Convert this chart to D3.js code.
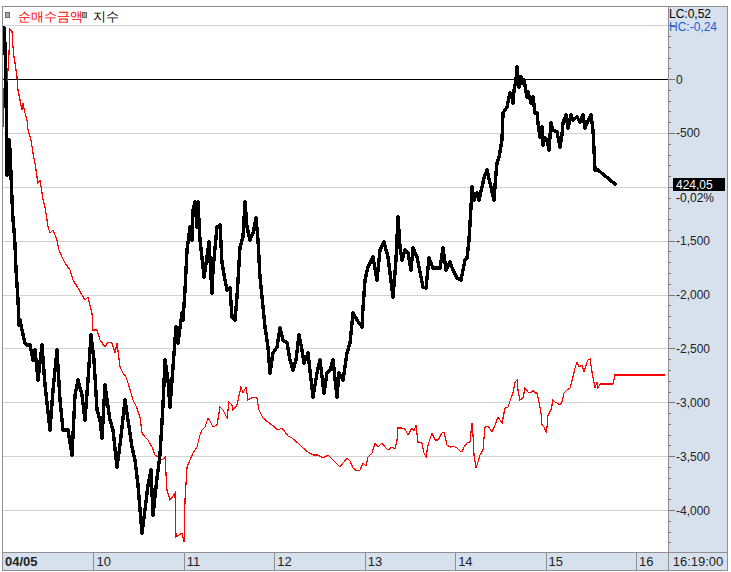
<!DOCTYPE html>
<html><head><meta charset="utf-8">
<script src="https://cdn.jsdelivr.net/npm/d3@7"></script>
<style>
body{margin:0;background:#fff}
svg{display:block}
text{font-family:"Liberation Sans",Arial,sans-serif}
</style>
</head><body>
<svg id="c" width="731" height="572"></svg>
<script>
// ---- data ----
const days = ["04/05","10","11","12","13","14","15","16"];
const yTickValues = [500,0,-500,-1000,-1500,-2000,-2500,-3000,-3500,-4000];
const yTickLabels = [0,-500,-1500,-2000,-2500,-3000,-3500,-4000];
const seriesNames = ["순매수금액","지수"];
const lastTime = "16:19:00";
const lcText = "LC:0,52", hcText = "HC:-0,24";
const lastIndex = "424,05", lastChange = "-0,02%";
// bar index (approx. 4‑minute bars, ~90 per session), net buying amount
const netBuy = [[0,-445],[1,-83],[3,-148],[5,84],[6,242],[7,465],[9,447],[10,298],[11,205],[12,150],[14,20],[15,-101],[17,-194],[19,-287],[20,-222],[22,-315],[24,-380],[25,-473],[28,-565],[30,-686],[32,-779],[34,-909],[35,-965],[37,-937],[39,-1057],[40,-1122],[42,-1187],[44,-1308],[45,-1373],[47,-1429],[50,-1401],[54,-1494],[56,-1587],[59,-1652],[62,-1707],[67,-1772],[70,-1865],[75,-1939],[79,-2004],[82,-2051],[85,-2023],[89,-2172],[90,-2329],[94,-2329],[97,-2422],[102,-2487],[105,-2441],[109,-2450],[112,-2543],[114,-2450],[117,-2673],[120,-2729],[123,-2766],[125,-2821],[128,-2914],[130,-2979],[134,-3054],[137,-3137],[139,-3286],[142,-3323],[145,-3351],[149,-3416],[152,-3490],[155,-3508],[159,-3536],[162,-3508],[164,-3815],[167,-3908],[172,-3843],[173,-4251],[179,-4214],[181,-4298],[182,-3908],[184,-3601],[187,-3536],[190,-3471],[194,-3416],[197,-3304],[199,-3258],[202,-3230],[205,-3146],[207,-3174],[210,-3230],[214,-3211],[217,-3044],[220,-3072],[224,-3146],[226,-2998],[229,-3026],[230,-3072],[234,-3026],[238,-2859],[240,-2914],[243,-2859],[245,-2979],[250,-2951],[254,-2961],[256,-3072],[260,-3146],[265,-3184],[269,-3211],[275,-3258],[279,-3239],[285,-3314],[289,-3332],[295,-3379],[300,-3425],[305,-3462],[310,-3490],[315,-3490],[320,-3518],[325,-3490],[330,-3536],[335,-3583],[337,-3601],[344,-3518],[347,-3546],[350,-3611],[354,-3638],[357,-3629],[360,-3564],[363,-3592],[365,-3508],[369,-3471],[372,-3378],[375,-3416],[379,-3378],[382,-3416],[385,-3443],[389,-3416],[392,-3434],[394,-3351],[395,-3239],[399,-3239],[402,-3249],[405,-3304],[409,-3239],[411,-3267],[413,-3211],[415,-3369],[419,-3378],[421,-3471],[423,-3508],[425,-3397],[429,-3286],[432,-3351],[435,-3351],[439,-3286],[441,-3276],[444,-3397],[447,-3416],[450,-3406],[454,-3425],[457,-3453],[459,-3462],[461,-3416],[464,-3378],[467,-3369],[469,-3193],[470,-3304],[471,-3490],[473,-3610],[475,-3555],[477,-3490],[480,-3443],[482,-3230],[485,-3221],[489,-3276],[492,-3211],[495,-3137],[499,-3193],[502,-3054],[505,-3044],[508,-2961],[510,-2914],[512,-2812],[514,-2794],[515,-2886],[517,-2979],[520,-2961],[522,-2868],[525,-2905],[528,-2914],[530,-2886],[532,-2914],[534,-2914],[536,-2998],[538,-3100],[539,-3211],[541,-3230],[543,-3276],[544,-3230],[545,-3119],[548,-3072],[550,-2979],[552,-2998],[554,-3007],[557,-3026],[559,-2998],[561,-2914],[564,-2886],[567,-2868],[570,-2766],[572,-2682],[574,-2626],[576,-2673],[579,-2654],[581,-2719],[584,-2626],[585,-2608],[587,-2599],[589,-2719],[591,-2812],[592,-2868],[594,-2812],[595,-2868],[597,-2831],[610,-2831],[612,-2747],[662,-2747]];
// index level
const indexLevel = [[1,431.85],[2,431.00],[3,428.75],[4,424.50],[5,425.25],[6,426.25],[7,425.75],[8,424.50],[9,423.25],[10,422.25],[11,421.75],[12,421.00],[13,419.75],[15,418.25],[16,417.00],[17,417.25],[19,416.75],[22,416.10],[24,416.00],[27,416.00],[30,415.25],[32,415.75],[35,414.25],[39,416.00],[42,414.00],[47,411.75],[50,413.75],[54,415.75],[57,413.25],[60,411.75],[65,411.75],[69,410.50],[72,413.50],[75,414.25],[79,413.50],[82,412.25],[85,414.25],[88,416.50],[91,415.25],[94,412.75],[97,412.25],[99,411.35],[102,414.00],[107,412.25],[110,411.75],[114,409.90],[117,411.00],[122,413.25],[125,412.25],[129,410.90],[132,410.25],[135,409.00],[139,406.60],[142,407.75],[145,409.00],[148,409.75],[150,407.50],[154,409.35],[157,410.50],[160,413.00],[162,415.25],[165,414.25],[167,412.90],[170,414.90],[173,416.90],[175,416.10],[179,417.60],[180,417.25],[182,418.75],[184,420.75],[187,421.90],[189,421.25],[190,422.75],[192,423.15],[194,421.90],[195,423.15],[197,421.25],[200,419.90],[201,419.40],[204,420.40],[206,421.15],[209,418.60],[210,419.75],[214,421.90],[217,422.00],[219,420.10],[222,419.25],[224,418.75],[227,418.85],[229,417.40],[232,417.25],[234,418.40],[237,420.90],[240,421.40],[242,423.15],[244,421.90],[247,421.25],[250,421.60],[253,422.35],[255,421.25],[257,419.40],[260,417.90],[262,416.90],[265,415.90],[267,414.60],[270,415.60],[274,415.90],[277,416.85],[280,416.25],[284,416.10],[287,415.25],[290,414.75],[293,415.25],[296,416.50],[299,415.75],[301,415.10],[305,415.60],[310,413.40],[314,414.60],[317,415.25],[321,413.60],[324,414.60],[327,414.75],[330,415.25],[334,413.40],[336,414.60],[340,414.25],[344,415.60],[347,416.10],[350,417.60],[354,417.25],[359,416.90],[360,417.85],[362,419.25],[365,419.90],[370,420.40],[374,419.25],[377,420.75],[381,421.15],[385,420.40],[390,418.40],[393,420.25],[395,422.40],[397,420.90],[399,420.25],[402,420.75],[405,420.60],[408,419.75],[410,420.85],[414,420.40],[417,419.65],[420,418.90],[423,418.85],[426,420.35],[430,419.85],[434,419.85],[437,419.85],[440,420.85],[443,419.75],[447,420.15],[450,419.75],[454,419.35],[458,419.25],[462,420.25],[464,420.35],[466,421.25],[468,422.90],[469,423.90],[471,423.25],[474,423.60],[476,423.25],[479,423.90],[481,424.35],[484,424.75],[487,424.10],[491,423.25],[493,424.60],[494,425.10],[496,425.40],[499,426.25],[500,427.60],[504,427.90],[507,428.60],[509,428.40],[510,428.10],[511,428.75],[513,429.25],[514,429.90],[516,428.90],[518,429.40],[519,429.10],[521,429.25],[524,428.40],[525,428.65],[528,428.10],[530,428.40],[532,427.60],[534,427.60],[535,427.10],[537,426.40],[539,426.90],[540,426.00],[542,426.35],[544,426.25],[546,425.75],[548,427.10],[550,426.75],[554,426.65],[557,425.90],[559,426.50],[560,427.10],[563,427.50],[565,426.85],[568,427.50],[570,427.25],[574,427.40],[577,427.15],[580,427.50],[582,426.85],[584,427.10],[588,427.50],[590,426.75],[592,424.75],[595,424.75],[612,424.05]];

// ---- layout ----
const W=731,H=572, L=3, R=668, T=6, B=552, BB=571, PR=728;
const barsPerDay = 90.43;
const svg = d3.select("#c");
const panel = "#d7e1ee", frame = "#8f8f8f";

const xDay = d3.scaleBand().domain(days).range([L, L + days.length*barsPerDay]).paddingInner(0).paddingOuter(0);
const xT = d3.scaleLinear().domain([0, days.length*barsPerDay]).range([L, L + days.length*barsPerDay]);
const yR = d3.scaleLinear().domain([0,-4000]).range([79.1, 510]);
const yI = d3.scaleLinear().domain([400,430]).range([665,65]);
const fmt = v => d3.format(",")(v).replace("\u2212","-");

svg.append("rect").attr("width",W).attr("height",H).attr("fill","#fff");
svg.append("defs").append("clipPath").attr("id","clip").append("rect")
  .attr("x",L).attr("y",T).attr("width",R-L).attr("height",B-T);

// grid
svg.append("g").selectAll("line").data(yTickValues).join("line")
  .attr("x1",L).attr("x2",R)
  .attr("y1",d=>Math.round(yR(d))+0.5).attr("y2",d=>Math.round(yR(d))+0.5)
  .attr("stroke",d=>d===0?"#000":"#d2d2d2").attr("stroke-width",1);

const g = svg.append("g").attr("clip-path","url(#clip)");
g.append("path").datum(netBuy)
  .attr("d", d3.line().x(d=>xT(d[0])).y(d=>yR(d[1])))
  .attr("fill","none").attr("stroke","#ff0000").attr("stroke-width",1.2)
  .attr("shape-rendering","crispEdges");
g.append("path").datum(indexLevel)
  .attr("d", d3.line().x(d=>xT(d[0])).y(d=>yI(d[1])))
  .attr("fill","none").attr("stroke","#000").attr("stroke-width",3.4)
  .attr("stroke-linejoin","round").attr("stroke-linecap","round")
  .attr("shape-rendering","crispEdges");

// right axis panel
svg.append("rect").attr("x",R).attr("y",T).attr("width",PR-R).attr("height",B-T).attr("fill",panel);
// bottom bar
svg.append("rect").attr("x",L).attr("y",B).attr("width",PR-L).attr("height",BB-B).attr("fill",panel);

// minor ticks
const minor = d3.range(500,-4400,-100);
svg.append("g").selectAll("line").data(minor).join("line")
  .attr("x1",R).attr("x2",d=>d%500===0?R+7:R+3)
  .attr("y1",d=>Math.round(yR(d))+0.5).attr("y2",d=>Math.round(yR(d))+0.5)
  .attr("stroke","#777");
svg.append("g").selectAll("text").data(yTickLabels).join("text")
  .attr("x",R+8).attr("y",d=>yR(d)+4.5)
  .attr("font-size",12).attr("fill","#222").text(fmt);

// frame lines
const fl = (x1,y1,x2,y2)=>svg.append("line").attr("x1",x1).attr("y1",y1).attr("x2",x2).attr("y2",y2).attr("stroke",frame).attr("stroke-width",1);
fl(2, T+0.5, PR, T+0.5);
fl(2.5, T, 2.5, BB);
fl(R+0.5, T, R+0.5, BB);
fl(PR-0.5, T, PR-0.5, BB);
fl(2, B+0.5, PR, B+0.5);
fl(2, BB-0.5, PR, BB-0.5);
days.forEach((d,i)=>{ if(i>0){ const x=Math.round(xDay(d))+0.5; fl(x,B,x,BB);} });

// bottom labels
svg.append("g").selectAll("text").data(days).join("text")
  .attr("x",d=>xDay(d)+(d===days[0]?2:3)).attr("y",566)
  .attr("font-size",13).attr("font-weight",(d,i)=>i===0?"bold":"normal")
  .attr("fill","#222").text(d=>d);
svg.append("text").attr("x",(R+PR)/2).attr("y",566).attr("text-anchor","middle")
  .attr("font-size",13).attr("fill","#222").text(lastTime);

// top-right labels
svg.append("text").attr("x",R+1).attr("y",18).attr("font-size",12).attr("fill","#000").text(lcText);
svg.append("text").attr("x",R+1).attr("y",31).attr("font-size",12).attr("fill","#1a5fd6").text(hcText);

// last index box
const yLast = yI(indexLevel[indexLevel.length-1][1]);
svg.append("rect").attr("x",673).attr("y",yLast-6).attr("width",52).attr("height",13).attr("fill","#000");
svg.append("text").attr("x",676).attr("y",yLast+5).attr("font-size",12).attr("fill","#fff").text(lastIndex);
svg.append("text").attr("x",676).attr("y",yLast+18).attr("font-size",12).attr("fill","#111").text(lastChange);

// legend
const lg = svg.append("g");
const legX = [5.5, 82.5], legTX = [18, 93], legCol = ["#ff0000","#000"];
seriesNames.forEach((n,i)=>{
  lg.append("rect").attr("x",legX[i]).attr("y",12.5).attr("width",4).attr("height",5)
    .attr("fill","#a8a8a8").attr("stroke","#6a6a6a");
  lg.append("text").attr("x",legTX[i]).attr("y",20.5).attr("font-size",12.5)
    .attr("font-family","'Noto Sans CJK KR',sans-serif").attr("fill",legCol[i]).text(n);
});
</script>
</body></html>
